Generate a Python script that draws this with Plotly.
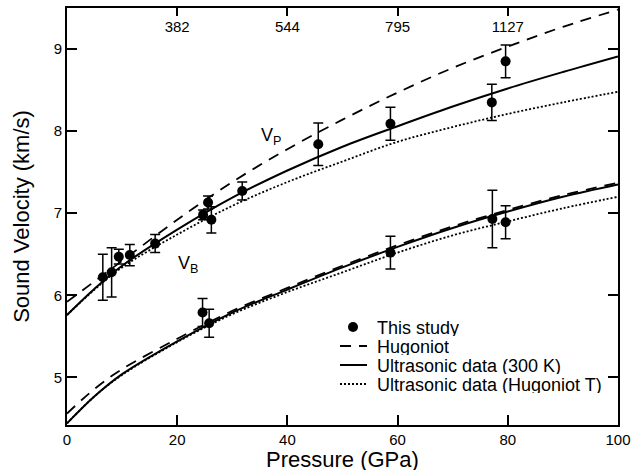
import plotly.graph_objects as go

# ---- measured data (this study) ----
P_vp = [6.5, 8.1, 9.4, 11.4, 16.0, 24.7, 25.6, 26.2, 31.8, 45.6, 58.7, 77.1, 79.6]
Vp = [6.22, 6.28, 6.47, 6.49, 6.63, 6.98, 7.13, 6.92, 7.27, 7.84, 8.09, 8.35, 8.85]
Vp_err = [0.28, 0.30, 0.09, 0.13, 0.11, 0.06, 0.08, 0.16, 0.11, 0.26, 0.20, 0.22, 0.20]

P_vb = [24.6, 25.8, 58.7, 77.2, 79.6]
Vb = [5.79, 5.66, 6.52, 6.93, 6.89]
Vb_err = [0.17, 0.17, 0.20, 0.35, 0.20]

# ---- model curves ----
P_curve = [0, 5, 10, 20, 30, 40, 50, 60, 70, 80, 90, 100]
Hug_vp = [5.92, 6.17, 6.42, 6.92, 7.38, 7.78, 8.14, 8.47, 8.77, 9.03, 9.27, 9.48]
US300_vp = [5.76, 6.08, 6.36, 6.80, 7.19, 7.52, 7.81, 8.06, 8.30, 8.52, 8.72, 8.91]
UST_vp = [5.76, 6.07, 6.34, 6.74, 7.09, 7.38, 7.63, 7.87, 8.05, 8.21, 8.35, 8.48]
Hug_vb = [4.56, 4.86, 5.10, 5.47, 5.81, 6.09, 6.36, 6.61, 6.84, 7.04, 7.22, 7.37]
US300_vb = [4.44, 4.77, 5.04, 5.44, 5.79, 6.07, 6.34, 6.59, 6.82, 7.02, 7.20, 7.35]
UST_vb = [4.44, 4.77, 5.03, 5.43, 5.77, 6.04, 6.28, 6.52, 6.73, 6.90, 7.06, 7.20]

# ---- top axis (Hugoniot temperature) ----
top_tickvals = [20, 40, 60, 80]
top_ticktext = ["382", "544", "795", "1127"]

legend_labels = ["This study", "Hugoniot", "Ultrasonic data (300 K)", "Ultrasonic data (Hugoniot T)"]
legend_styles = ["marker", "dash", "solid", "dot"]

FONT = "Liberation Sans, Arial, Helvetica, sans-serif"
W, H = 631, 474
ML, MR, MT, MB = 67, 13, 8, 49
PW, PH = W - ML - MR, H - MT - MB

fig = go.Figure()

dash_map = {"dash": "11px,8px", "solid": "solid", "dot": "2px,2px"}

for P, V, style in [(P_curve, Hug_vp, "dash"), (P_curve, US300_vp, "solid"), (P_curve, UST_vp, "dot"),
                    (P_curve, Hug_vb, "dash"), (P_curve, US300_vb, "solid"), (P_curve, UST_vb, "dot")]:
    fig.add_trace(go.Scatter(
        x=P, y=V, mode="lines", line=dict(color="black", width=1.8 if style != "solid" else 2,
                                           dash=dash_map[style], shape="spline", smoothing=1.0),
        showlegend=False, hoverinfo="skip"))

for P, V, E in [(P_vp, Vp, Vp_err), (P_vb, Vb, Vb_err)]:
    fig.add_trace(go.Scatter(
        x=P, y=V, mode="markers",
        marker=dict(color="black", size=10),
        error_y=dict(type="data", array=E, color="black", thickness=1.5, width=5),
        showlegend=False))

# invisible helper trace so the top (temperature) axis is drawn
fig.add_trace(go.Scatter(x=[P_curve[0], P_curve[-1]], y=[US300_vp[0], US300_vp[0]], xaxis="x2",
                         mode="lines", line=dict(width=0), opacity=0, showlegend=False, hoverinfo="skip"))


def px2paper(xp, yp):
    return (xp - ML) / PW, (H - MB - yp) / PH


shapes = []
annotations = []
row_y0 = 327
row_dy = 19
for i, (lab, st) in enumerate(zip(legend_labels, legend_styles)):
    yy = row_y0 + i * row_dy
    xs0, yv = px2paper(340, yy)
    xs1, _ = px2paper(367, yy)
    xm, _ = px2paper(353, yy)
    xt, _ = px2paper(375, yy)
    if st == "marker":
        shapes.append(dict(type="circle", xref="paper", yref="paper", xsizemode="pixel", ysizemode="pixel",
                           xanchor=xm, yanchor=yv, x0=-5, x1=5, y0=-5, y1=5,
                           fillcolor="black", line=dict(color="black", width=0)))
    else:
        shapes.append(dict(type="line", xref="paper", yref="paper", x0=xs0, x1=xs1, y0=yv, y1=yv,
                           line=dict(color="black", width=1.8 if st != "solid" else 2, dash=dash_map[st])))
    annotations.append(dict(text=lab, xref="paper", yref="paper", x=xt, y=yv, xanchor="left", yanchor="middle",
                            height=17, showarrow=False, font=dict(family=FONT, size=18, color="black")))

annotations.append(dict(text="V<sub>P</sub>", x=37, y=7.93, xref="x", yref="y", showarrow=False,
                        font=dict(family=FONT, size=18, color="black")))
annotations.append(dict(text="V<sub>B</sub>", x=22, y=6.38, xref="x", yref="y", showarrow=False,
                        font=dict(family=FONT, size=18, color="black")))

# x-axis title placed as paper annotation for exact vertical position
_, ytitle = px2paper(0, 459)
annotations.append(dict(text="Pressure (GPa)", xref="paper", yref="paper", x=0.5, y=ytitle,
                        xanchor="center", yanchor="middle", showarrow=False, height=21,
                        font=dict(family=FONT, size=22, color="black")))

fig.update_layout(
    width=W, height=H,
    margin=dict(l=ML, r=MR, t=MT, b=MB, autoexpand=False),
    paper_bgcolor="white", plot_bgcolor="white",
    font=dict(family=FONT, size=15, color="black"),
    showlegend=False,
    shapes=shapes, annotations=annotations,
    xaxis=dict(range=[0, 100], tickvals=[0, 20, 40, 60, 80, 100], ticks="inside", ticklen=10,
               tickwidth=1.5, tickcolor="black", showline=True, linecolor="black", linewidth=2,
               mirror=True, showgrid=False, zeroline=False, automargin=False, color="black",
               tickfont=dict(family=FONT, size=15, color="black")),
    xaxis2=dict(range=[0, 100], overlaying="x", side="top", tickvals=top_tickvals, ticktext=top_ticktext,
                ticks="inside", ticklen=8, tickwidth=1.5, tickcolor="black", ticklabelposition="inside",
                ticklabelstandoff=5, color="black",
                showgrid=False, zeroline=False, showline=False, automargin=False,
                tickfont=dict(family=FONT, size=15, color="black")),
    yaxis=dict(range=[4.42, 9.5], tickvals=[5, 6, 7, 8, 9], ticks="inside", ticklen=10, tickwidth=1.5,
               tickcolor="black", showline=True, linecolor="black", linewidth=2, mirror="ticks",
               showgrid=False, zeroline=False, tickfont=dict(family=FONT, size=15, color="black"),
               automargin=True, color="black",
               title=dict(text="Sound Velocity (km/s)", font=dict(family=FONT, size=22, color="black"),
                          standoff=18)),
)

fig.write_html("out.html")
